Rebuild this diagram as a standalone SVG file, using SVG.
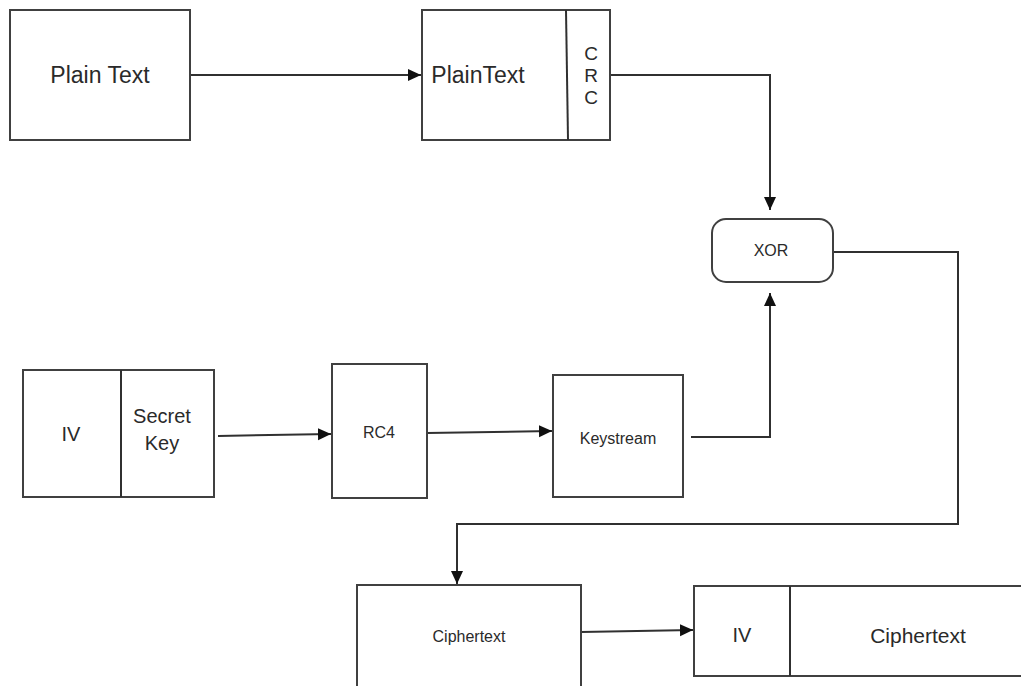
<svg xmlns="http://www.w3.org/2000/svg" width="1021" height="686" viewBox="0 0 1021 686">
  <style>
    .box { fill: #ffffff; stroke: #404040; stroke-width: 2; }
    .div { stroke: #303030; stroke-width: 2; fill: none; }
    .wire { stroke: #303030; stroke-width: 2; fill: none; }
    .lbl { font-family: "Liberation Sans", Arial, sans-serif; fill: #2a2a2a; text-anchor: middle; dominant-baseline: central; }
  </style>
  <defs>
    <marker id="arrow" markerUnits="userSpaceOnUse" markerWidth="16" markerHeight="14" refX="13" refY="6" orient="auto">
      <path d="M0,0 L13,6 L0,12 Z" fill="#101010"/>
    </marker>
  </defs>
  <rect width="1021" height="686" fill="#ffffff"/>

  <!-- connectors -->
  <g id="connectors">
    <line class="wire" x1="190" y1="75" x2="421" y2="75" marker-end="url(#arrow)"/>
    <polyline class="wire" points="610,75 770,75 770,210" marker-end="url(#arrow)"/>
    <line class="wire" x1="218" y1="436" x2="331" y2="434" marker-end="url(#arrow)"/>
    <line class="wire" x1="427" y1="433" x2="552" y2="431" marker-end="url(#arrow)"/>
    <polyline class="wire" points="691,437 770,437 770,293" marker-end="url(#arrow)"/>
    <polyline class="wire" points="833,252 958,252 958,524 457,524 457,584" marker-end="url(#arrow)"/>
    <line class="wire" x1="581" y1="632" x2="693" y2="630" marker-end="url(#arrow)"/>
  </g>

  <!-- plain text input -->
  <g id="plain-text">
    <rect class="box" x="10" y="10" width="180" height="130"/>
    <text class="lbl" x="100" y="75" font-size="23">Plain Text</text>
  </g>

  <!-- plaintext with CRC appended -->
  <g id="plaintext-crc">
    <rect class="box" x="422" y="10" width="188" height="130"/>
    <line class="div" x1="566" y1="10" x2="568" y2="140"/>
    <text class="lbl" x="478" y="75" font-size="23">PlainText</text>
    <text class="lbl" x="591" y="53" font-size="19">C</text>
    <text class="lbl" x="591" y="75" font-size="19">R</text>
    <text class="lbl" x="591" y="97" font-size="19">C</text>
  </g>

  <!-- XOR operation -->
  <g id="xor">
    <rect class="box" x="712" y="219" width="121" height="63" rx="14" ry="14"/>
    <text class="lbl" x="771" y="250" font-size="16">XOR</text>
  </g>

  <!-- IV and secret key -->
  <g id="iv-key">
    <rect class="box" x="23" y="370" width="191" height="127"/>
    <line class="div" x1="121" y1="370" x2="121" y2="497"/>
    <text class="lbl" x="71" y="434" font-size="20">IV</text>
    <text class="lbl" x="162" y="416" font-size="20">Secret</text>
    <text class="lbl" x="162" y="443" font-size="20">Key</text>
  </g>

  <!-- RC4 -->
  <g id="rc4">
    <rect class="box" x="332" y="364" width="95" height="134"/>
    <text class="lbl" x="379" y="432" font-size="16">RC4</text>
  </g>

  <!-- keystream -->
  <g id="keystream">
    <rect class="box" x="553" y="375" width="130" height="122"/>
    <text class="lbl" x="618" y="438" font-size="16">Keystream</text>
  </g>

  <!-- ciphertext -->
  <g id="ciphertext">
    <rect class="box" x="357" y="585" width="224" height="110"/>
    <text class="lbl" x="469" y="636" font-size="16">Ciphertext</text>
  </g>

  <!-- IV prepended to ciphertext -->
  <g id="iv-ciphertext">
    <rect class="box" x="694" y="586" width="340" height="90"/>
    <line class="div" x1="790" y1="586" x2="790" y2="676"/>
    <text class="lbl" x="742" y="635" font-size="20">IV</text>
    <text class="lbl" x="918" y="635" font-size="21">Ciphertext</text>
  </g>
</svg>
